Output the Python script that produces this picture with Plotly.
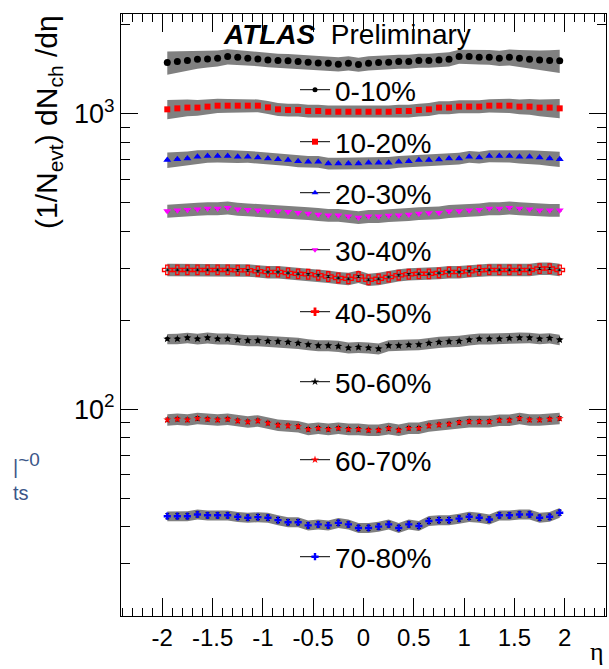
import numpy as np
import plotly.graph_objects as go

# pseudorapidity bin centres
eta = [-1.95, -1.85, -1.75, -1.65, -1.55, -1.45, -1.35, -1.25, -1.15, -1.05,
       -0.95, -0.85, -0.75, -0.65, -0.55, -0.45, -0.35, -0.25, -0.15, -0.05,
       0.05, 0.15, 0.25, 0.35, 0.45, 0.55, 0.65, 0.75, 0.85, 0.95,
       1.05, 1.15, 1.25, 1.35, 1.45, 1.55, 1.65, 1.75, 1.85, 1.95]

# (1/Nevt) dNch/deta per centrality class
c0_10 = [1487, 1499, 1510, 1526, 1530, 1538, 1558, 1550, 1538, 1530,
         1518, 1510, 1507, 1499, 1491, 1483, 1479, 1468, 1479, 1464,
         1479, 1487, 1491, 1499, 1499, 1510, 1510, 1518, 1526, 1558,
         1558, 1550, 1550, 1538, 1550, 1538, 1526, 1518, 1510, 1507]
c10_20 = [1033, 1041, 1047, 1047, 1055, 1063, 1063, 1063, 1063, 1063,
          1049, 1033, 1028, 1028, 1020, 1020, 1014, 1014, 1014, 1014,
          1014, 1014, 1014, 1020, 1020, 1028, 1033, 1047, 1047, 1055,
          1055, 1055, 1063, 1063, 1063, 1055, 1055, 1047, 1047, 1041]
c20_30 = [696, 701, 705, 714, 718, 718, 718, 714, 714, 710,
          705, 701, 696, 690, 687, 687, 678, 678, 678, 678,
          681, 681, 681, 687, 690, 696, 696, 699, 705, 705,
          714, 710, 718, 718, 718, 714, 714, 710, 705, 701]
c30_40 = [468, 471, 473, 475, 477, 477, 480, 475, 473, 471,
          468, 467, 465, 462, 459, 456, 453, 453, 449, 445,
          449, 449, 452, 453, 456, 459, 461, 462, 467, 468,
          471, 473, 477, 477, 480, 477, 475, 471, 471, 471]
c40_50 = [296, 296, 296, 296, 296, 296, 296, 295, 295, 293,
          291, 291, 289, 287, 286, 284, 281, 278, 276, 281,
          274, 276, 280, 284, 286, 287, 287, 289, 291, 291,
          293, 295, 296, 296, 296, 296, 296, 299, 299, 296]
c50_60 = [172.9, 172.9, 174.3, 172.9, 174.3, 172.9, 172.9, 171.6, 170.7, 170.7,
          169.8, 169.4, 168.5, 167.2, 165.4, 164.1, 164.1, 163.3, 161.2, 162.0,
          161.2, 160.0, 164.1, 164.1, 165.0, 165.4, 167.2, 168.5, 169.4, 169.8,
          171.6, 172.9, 172.9, 172.9, 173.8, 174.3, 174.3, 172.9, 173.8, 171.6]
c60_70 = [92.1, 92.6, 92.1, 93.1, 92.6, 92.1, 92.6, 91.4, 90.7, 91.4,
          89.8, 88.4, 87.9, 87.4, 85.6, 86.3, 85.6, 86.3, 85.6, 85.6,
          85.0, 85.0, 86.1, 85.0, 86.3, 86.3, 87.9, 88.6, 89.1, 90.2,
          90.9, 90.9, 90.9, 91.9, 91.9, 93.1, 92.1, 92.1, 92.6, 93.1]
c70_80 = [43.5, 43.5, 43.5, 44.1, 43.8, 43.8, 43.8, 43.3, 43.0, 43.2,
          43.0, 42.2, 41.5, 41.5, 40.5, 40.8, 40.5, 41.3, 40.8, 39.7,
          39.7, 40.1, 40.8, 39.7, 40.8, 40.3, 41.9, 42.2, 42.2, 42.7,
          43.3, 43.0, 42.4, 43.8, 43.8, 44.1, 44.1, 43.0, 43.3, 44.7]

labels = ["0-10%", "10-20%", "20-30%", "30-40%", "40-50%", "50-60%", "60-70%", "70-80%"]
series = [c0_10, c10_20, c20_30, c30_40, c40_50, c50_60, c60_70, c70_80]

# relative systematic uncertainty (%) at mid-rapidity and at the acceptance edge
sys_center = [5.5, 5.0, 4.6, 5.0, 4.8, 4.3, 4.5, 3.9]
sys_edge = [9.0, 7.5, 6.0, 5.0, 4.8, 4.0, 4.5, 3.8]
# weight of the edge uncertainty in each eta bin
edge_weight = [1.0, 0.8, 0.6, 0.45, 0.3, 0.2, 0.12, 0.06, 0, 0,
               0, 0, 0, 0, 0, 0, 0, 0, 0, 0,
               0, 0, 0, 0, 0, 0, 0, 0, 0, 0,
               0, 0, 0.06, 0.12, 0.2, 0.3, 0.45, 0.6, 0.8, 1.0]
# relative statistical uncertainty (%)
stat_rel = [0.2, 0.3, 0.4, 0.5, 0.7, 1.0, 1.4, 2.0]

# vertical pixel position of each legend entry
legend_y = [90, 142, 193, 250, 312, 382, 460, 557]

colors = ["black", "#ff0000", "#0000ff", "#ff00ff", "#ff0000", "black", "#ff0000", "#0000ff"]
symbols = ["circle", "square", "triangle-up", "triangle-down", "cross-open", "star", "star", "cross"]
sizes = [7, 6, 7, 7, 8, 6, 6, 6]
leg_symbols = ["circle", "square", "triangle-up", "triangle-down", "cross", "star", "star", "cross"]
leg_sizes = [5, 6, 6, 6, 7, 6, 6, 6]

band_color = "rgb(128,128,128)"
FONT = "Liberation Sans, Arial, Helvetica, sans-serif"

fig = go.Figure()

# systematic bands
for k, vals in enumerate(series):
    v = np.array(vals, dtype=float)
    s = (np.array([sys_center[k]] * len(v)) +
         (sys_edge[k] - sys_center[k]) * np.array(edge_weight)) / 100.0
    fig.add_trace(go.Scatter(x=eta, y=v * (1 + s), mode="lines",
                             line=dict(width=0, color=band_color),
                             showlegend=False, hoverinfo="skip"))
    fig.add_trace(go.Scatter(x=eta, y=v * (1 - s), mode="lines",
                             line=dict(width=0, color=band_color),
                             fill="tonexty", fillcolor=band_color,
                             showlegend=False, hoverinfo="skip"))

# data points with statistical errors
for k, vals in enumerate(series):
    v = np.array(vals, dtype=float)
    mk = dict(symbol=symbols[k], size=sizes[k], color=colors[k],
              line=dict(width=0, color=colors[k]))
    if symbols[k].endswith("open"):
        mk["line"] = dict(width=1.3, color=colors[k])
    fig.add_trace(go.Scatter(
        x=eta, y=v, mode="markers", marker=mk, showlegend=False,
        error_y=dict(type="data", array=v * stat_rel[k] / 100.0,
                     color="black", thickness=1, width=2),
    ))

# one legend per centrality class, placed beneath its curve
H = 602.0
legends = {}
for k, name in enumerate(labels):
    key = "legend" if k == 0 else f"legend{k + 1}"
    fig.add_trace(go.Scatter(
        x=[None], y=[None], mode="lines+markers", name=name,
        line=dict(color="black", width=1),
        marker=dict(symbol=leg_symbols[k], size=leg_sizes[k], color=colors[k],
                    line=dict(width=0)),
        legend=key,
    ))
    legends[key] = dict(
        x=(295 - 121) / 485.0, y=(616 - legend_y[k]) / H,
        xanchor="left", yanchor="middle",
        bgcolor="rgba(0,0,0,0)", borderwidth=0,
        font=dict(family=FONT, size=28, color="black"),
        itemwidth=30,
    )

fig.update_layout(
    width=609, height=669,
    margin=dict(l=121, r=3, t=14, b=53),
    paper_bgcolor="white", plot_bgcolor="white",
    font=dict(family=FONT, color="black"),
    **legends,
)

xt = [-2, -1.5, -1, -0.5, 0, 0.5, 1, 1.5, 2]
xt_text = ["-2", "-1.5", "-1", "-0.5", "0", "0.5", "1", "1.5", "2"]
fig.update_xaxes(
    range=[-2.41, 2.41], tickvals=xt, ticktext=xt_text,
    ticks="inside", ticklen=18, tickwidth=1, tickcolor="black",
    showline=True, linecolor="black", linewidth=1.2, mirror="allticks",
    showgrid=False, zeroline=False,
    tickfont=dict(family=FONT, size=24, color="black"),
    minor=dict(dtick=0.1, tick0=0, ticks="inside", ticklen=8,
               tickwidth=1, tickcolor="black", showgrid=False),
)

y_minor = [20, 30, 40, 50, 60, 70, 80, 90, 200, 300, 400, 500, 600, 700, 800, 900, 2000]
fig.update_yaxes(
    type="log", range=[np.log10(20), np.log10(2170)],
    tickvals=[100, 1000], ticktext=["10<sup>2</sup>", "10<sup>3</sup>"],
    ticks="inside", ticklen=17, tickwidth=1, tickcolor="black",
    showline=True, linecolor="black", linewidth=1.2, mirror="allticks",
    showgrid=False, zeroline=False,
    tickfont=dict(family=FONT, size=27, color="black"),
    minor=dict(tickvals=y_minor, ticks="inside", ticklen=9,
               tickwidth=1, tickcolor="black", showgrid=False),
)

# axis titles and labels
fig.add_annotation(
    text="(1/N<sub>evt</sub>) dN<sub>ch</sub> /dη",
    textangle=-90, xref="paper", yref="paper",
    x=(49 - 121) / 485.0, y=(616 - 13) / H, xanchor="center", yanchor="top",
    showarrow=False, font=dict(family=FONT, size=30, color="black"),
)
fig.add_annotation(
    text="η", xref="paper", yref="paper",
    x=(597 - 121) / 485.0, y=(616 - 668) / H, xanchor="center", yanchor="bottom",
    showarrow=False, font=dict(family="Liberation Serif, serif", size=26, color="black"),
)
fig.add_annotation(
    text="<b><i>ATLAS</i></b>\u00a0\u00a0Preliminary", xref="paper", yref="paper",
    x=(221 - 121) / 485.0, y=(616 - 35) / H, xanchor="left", yanchor="middle",
    showarrow=False, font=dict(family=FONT, size=28, color="black"),
)
fig.add_annotation(
    text="|<sup><span style='font-size:19px'>~0</span></sup><br>ts",
    xref="paper", yref="paper",
    x=(11 - 121) / 485.0, y=(616 - 476) / H, xanchor="left", yanchor="middle",
    align="left",
    showarrow=False, font=dict(family=FONT, size=20, color="#3b5688"),
)

fig.write_html("out.html")
